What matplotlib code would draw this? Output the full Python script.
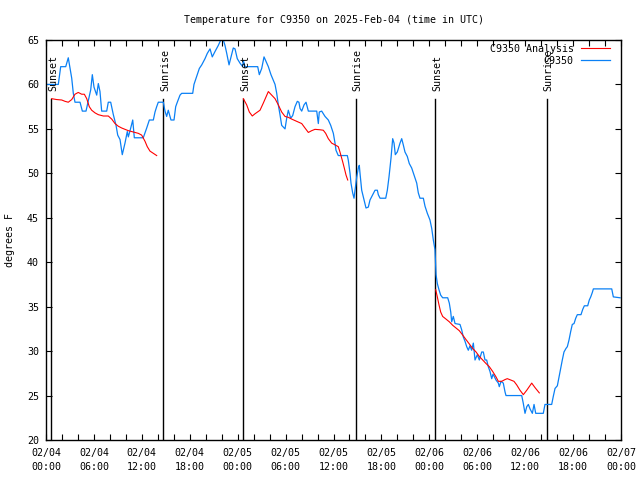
import numpy as np
import matplotlib
matplotlib.use("Agg")
import matplotlib.pyplot as plt
import matplotlib.ticker as mticker

# ==========================================
# data: hours since 2025-02-04 00:00 UTC, temperature in degrees F
# ==========================================
obs_hours = [0.00, 1.54, 1.84, 2.47, 2.79, 3.22, 3.42, 3.63, 4.26, 4.55, 5.01, 5.30, 5.60, 5.80,
             6.01, 6.35, 6.55, 6.76, 6.97, 7.60, 7.80, 8.10, 8.43, 8.77, 8.98, 9.27, 9.55, 9.89,
             10.18, 10.31, 10.61, 10.86, 11.06, 12.18, 12.61, 12.94, 13.44, 13.65, 13.86, 14.06,
             14.69, 14.90, 15.11, 15.31, 15.65, 16.03, 16.24, 16.44, 16.78, 16.99, 18.37, 18.53,
             18.87, 19.20, 19.50, 19.91, 20.20, 20.54, 20.82, 21.16, 21.58, 21.88, 22.20, 22.41,
             22.63, 22.92, 23.17, 23.45, 23.67, 23.95, 24.29, 24.63, 24.71, 24.92, 26.51, 26.71,
             27.01, 27.30, 27.64, 27.84, 28.17, 28.68, 28.89, 29.09, 29.30, 29.51, 29.93, 30.14,
             30.34, 30.64, 30.89, 31.18, 31.47, 31.67, 31.81, 32.02, 32.31, 32.56, 32.85, 33.90,
             34.10, 34.22, 34.52, 34.94, 35.35, 35.65, 35.98, 36.19, 36.31, 36.60, 37.73, 37.85,
             38.07, 38.19, 38.40, 38.57, 38.91, 39.11, 39.23, 39.32, 39.53, 39.82, 40.07, 40.36,
             40.57, 40.91, 41.20, 41.49, 41.61, 41.83, 42.54, 42.74, 42.95, 43.20, 43.41, 43.58,
             43.74, 43.99, 44.33, 44.54, 44.74, 44.95, 45.24, 45.49, 45.79, 46.08, 46.42, 46.62,
             46.83, 47.25, 47.46, 47.75, 48.08, 48.30, 48.50, 48.71, 48.75, 48.80, 48.84, 49.00,
             49.21, 49.42, 49.67, 50.30, 50.50, 50.68, 50.80, 51.00, 51.22, 51.84, 52.05, 52.25,
             52.47, 52.68, 52.88, 53.09, 53.30, 53.51, 53.72, 54.01, 54.26, 54.56, 54.76, 54.97,
             55.18, 55.38, 55.60, 55.81, 55.97, 56.10, 56.35, 56.64, 56.76, 56.98, 57.26, 57.48,
             57.60, 59.57, 59.77, 59.98, 60.20, 60.40, 60.61, 60.90, 61.11, 61.32, 62.27, 62.48,
             63.32, 63.52, 63.74, 64.03, 64.24, 64.45, 64.65, 64.86, 65.11, 65.28, 65.49, 65.70,
             65.90, 66.12, 66.33, 66.53, 66.99, 67.21, 67.41, 67.83, 68.03, 68.21, 68.41, 68.54,
             70.84, 71.04, 71.88]
obs_temp = [60, 60, 62, 62, 63, 60.7, 59, 58, 58, 57, 57, 58.2, 59.4, 61.1,
            59.7, 58.8, 60.1, 59.2, 57, 57, 58, 58, 56.6, 55.4, 54.3, 53.8, 52.1, 53.4,
            54.7, 54.1, 55.1, 56, 54, 54, 55.1, 56, 56, 56.9, 57.5, 58,
            58, 57, 56.4, 57.1, 56, 56, 57.5, 58, 58.8, 59, 59, 60,
            60.9, 61.8, 62.2, 62.9, 63.5, 64, 63.1, 63.7, 64.4, 65, 65, 64.4,
            63.5, 62.2, 63.1, 64.1, 64, 62.9, 62.4, 62, 62.7, 62, 62, 61.1,
            61.8, 63.1, 62.4, 62, 61.1, 60, 59, 57.7, 56.6, 55.4, 55, 56.2,
            57.1, 56.2, 56.5, 57.5, 58.1, 58, 57.3, 57, 57.7, 58, 57, 57,
            55.6, 56.9, 57, 56.4, 56, 55.4, 54.5, 53.4, 52.6, 52, 52, 51.5,
            50, 48.9, 47.8, 47.2, 49.6, 50.6, 50.9, 50, 48.1, 47, 46.1, 46.2,
            47, 47.6, 48.1, 48.1, 47.6, 47.2, 47.2, 48.1, 49.6, 51.7, 53.9, 53.4,
            52.1, 52.4, 53.4, 53.9, 53.2, 52.4, 51.9, 51.1, 50.6, 49.8, 48.9, 47.8,
            47.2, 47.2, 46.3, 45.5, 44.75, 43.8, 42.5, 41.4, 40.6, 39.5, 38.6, 37.6,
            36.9, 36.3, 36, 36, 35.4, 34.4, 33.3, 33.9, 33.1, 33, 32.4, 31.6,
            31.1, 30.5, 30.1, 30.6, 30.1, 30.9, 29, 29.6, 29, 29.9, 29.9, 29,
            29, 28.25, 27.7, 26.9, 27.4, 27.2, 26.75, 26.4, 26, 26.6, 26.4, 25.4,
            25, 25, 24.1, 23, 23.75, 24, 23.5, 23, 24, 23, 23, 24,
            24, 24.9, 25.8, 26.1, 27.1, 28.1, 29, 29.9, 30.3, 30.5, 31.25, 32.2,
            33, 33.1, 33.7, 34.1, 34.1, 34.7, 35.1, 35.1, 35.75, 36.1, 36.6, 37,
            37, 36.1, 36]

# analysis: three overnight runs, nan breaks the line between them
ana_hours = [0.71, 1.34, 1.97, 2.38, 2.79, 3.22, 3.63, 4.04, 4.47, 4.80, 5.10, 5.42, 5.72, 6.14,
             6.55, 7.18, 7.80, 8.23, 8.64, 9.05, 9.48, 9.89, 10.31, 10.73, 11.14, 11.56, 11.98,
             12.40, 12.68, 13.02, 13.44, 13.86, np.nan,
             24.71, 25.13, 25.46, 25.83, 26.17, 26.80, 27.21, 27.55, 27.84, 28.26, 28.68, 29.09,
             29.51, 29.93, 30.34, 30.77, 31.39, 32.02, 32.43, 32.85, 33.27, 33.68, 34.31, 34.72,
             35.02, 35.35, 35.77, 36.19, 36.60, 36.81, 37.15, 37.35, 37.57, 37.78, np.nan,
             48.80, 49.00, 49.21, 49.42, 49.67, 50.09, 50.50, 50.93, 51.34, 51.75, 52.18, 52.59,
             53.01, 53.43, 53.85, 54.26, 54.68, 55.10, 55.51, 55.94, 56.35, 56.64, 57.06, 57.48,
             57.76, 58.19, 58.60, 58.94, 59.35, 59.77, 60.20, 60.82, 61.23, 61.77]
ana_temp = [58.4, 58.3, 58.25, 58.1, 58, 58.3, 58.9, 59.1, 58.9, 58.9, 58.4, 57.5, 57.1, 56.8,
            56.6, 56.45, 56.45, 56.1, 55.6, 55.3, 55.1, 54.95, 54.8, 54.7, 54.6, 54.5, 54.3,
            53.6, 53, 52.5, 52.25, 52.0, np.nan,
            58.4, 57.7, 56.9, 56.45, 56.7, 57.1, 57.9, 58.6, 59.2, 58.8, 58.4, 57.7,
            56.9, 56.4, 56.3, 56.1, 55.85, 55.6, 55.1, 54.6, 54.8, 54.95, 54.9, 54.85,
            54.5, 53.9, 53.4, 53.2, 53, 52.4, 51.3, 50.6, 49.8, 49.25, np.nan,
            36.9, 36.1, 35.2, 34.4, 33.9, 33.6, 33.3, 32.9, 32.6, 32.3, 31.8, 31.3,
            30.8, 30.3, 29.9, 29.4, 29, 28.6, 28.25, 27.7, 27.1, 26.6, 26.6, 26.8,
            26.9, 26.75, 26.6, 26.2, 25.6, 25.1, 25.6, 26.4, 25.9, 25.3]

sun_hours = [0.68, 14.69, 24.71, 38.78, 48.75, 62.70]
sun_names = ['Sunset', 'Sunrise', 'Sunset', 'Sunrise', 'Sunset', 'Sunrise']

tick_labels = ['02/04\n00:00', '02/04\n06:00', '02/04\n12:00', '02/04\n18:00',
               '02/05\n00:00', '02/05\n06:00', '02/05\n12:00', '02/05\n18:00',
               '02/06\n00:00', '02/06\n06:00', '02/06\n12:00', '02/06\n18:00',
               '02/07\n00:00']

plt.rcParams['font.family'] = ['DejaVu Sans Mono']
plt.rcParams['font.size'] = 7.2

fig = plt.figure(figsize=(6.4, 4.8), dpi=100)
ax = fig.add_axes([46 / 640, 40 / 480, 575 / 640, 400 / 480])

# sunrise / sunset markers
for h, name in zip(sun_hours, sun_names):
    ax.plot([h, h], [0, 0.853], color='black', lw=1.0,
            transform=ax.get_xaxis_transform(), zorder=1)
    ax.text(h + 0.2, 0.872, name, rotation=90, ha='center', va='bottom',
            transform=ax.get_xaxis_transform(), fontsize=7.2)

ax.plot(ana_hours, ana_temp, color='#ff0000', lw=0.8, label='C9350 Analysis', zorder=3)
ax.plot(obs_hours, obs_temp, color='#0a80f5', lw=0.9, label='C9350', zorder=2)

ax.set_xlim(0, 72)
ax.set_ylim(20, 65)
ax.set_xticks(np.arange(0, 73, 6))
ax.set_xticklabels(tick_labels, linespacing=1.5)
ax.xaxis.set_minor_locator(mticker.MultipleLocator(2))
ax.set_yticks(np.arange(20, 66, 5))
ax.tick_params(which='both', direction='in', top=True, right=True, length=4, width=0.8,
               labelsize=7.2)
ax.tick_params(axis='x', pad=6)
ax.tick_params(axis='y', pad=5)
for s in ax.spines.values():
    s.set_linewidth(1.0)

ax.set_ylabel('degrees F', fontsize=7.2, labelpad=9)
ax.set_title('Temperature for C9350 on 2025-Feb-04 (time in UTC)', fontsize=7.2, pad=12)

ax.legend(loc='upper right', bbox_to_anchor=(0.981, 0.99), frameon=False, markerfirst=False,
          handlelength=2.95, handletextpad=0.7, labelspacing=0.2, borderpad=0,
          borderaxespad=0, fontsize=7.2)

fig.savefig('out.png', dpi=100)
